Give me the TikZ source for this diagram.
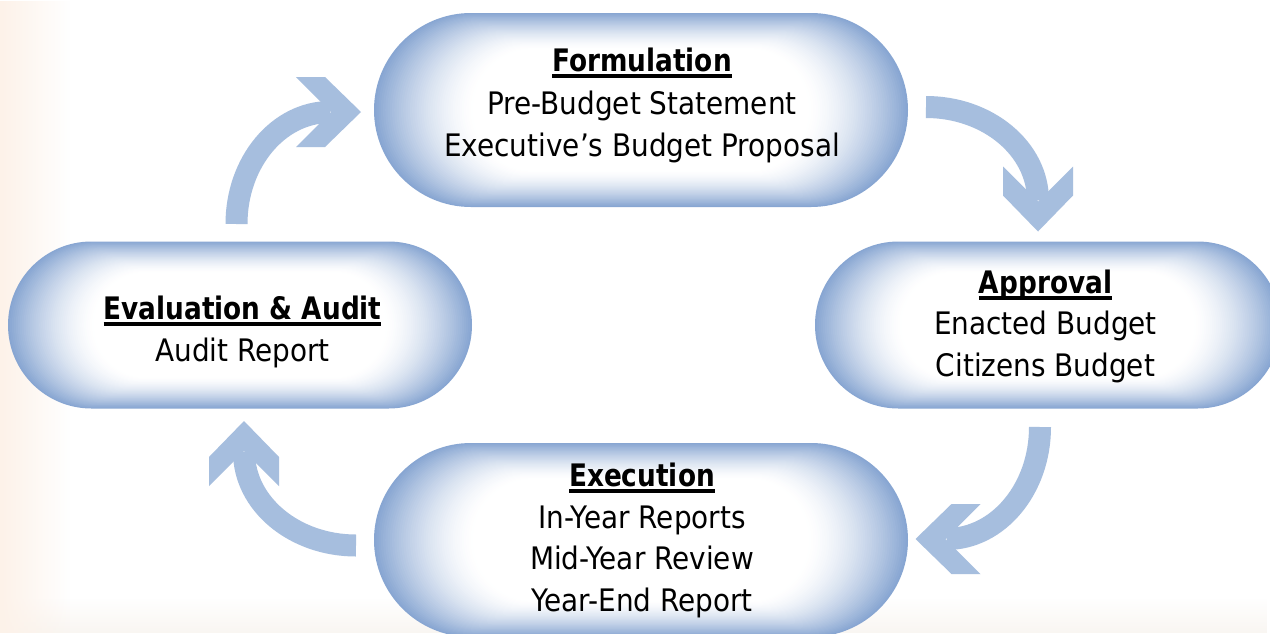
\documentclass[tikz,border=0pt]{standalone}
\usepackage{fontspec}
\setmainfont[FakeStretch=0.9,BoldFeatures={FakeStretch=0.85}]{DejaVu Sans}
\usetikzlibrary{fadings}

\definecolor{pillblue}{RGB}{136,166,210}
\definecolor{arrowblue}{RGB}{166,190,222}
\definecolor{peach}{RGB}{253,242,233}
\definecolor{sand}{RGB}{249,246,242}

% bold heading with a heavy underline
\newcommand\heading[1]{\textbf{\setbox0\hbox{#1}\rlap{\rule[-6.5pt]{\wd0}{3.5pt}}\box0}}

% stadium with a soft inner glow: centre x, centre y, half width, half height
\newcommand\glowpill[4]{%
  \foreach \gi in {0,...,44}{%
    \pgfmathsetmacro\gS{1-0.37*\gi/44}%
    \pgfmathsetmacro\gT{100*(1-\gi/44)^1.5}%
    \pgfmathsetmacro\gW{#3*\gS}%
    \pgfmathsetmacro\gR{#4*\gS}%
    \fill[pillblue!\gT!white]
      ({#1-\gW+\gR},{#2-\gR}) -- ({#1+\gW-\gR},{#2-\gR})
      arc[start angle=90,end angle=-90,radius=\gR pt]
      -- ({#1-\gW+\gR},{#2+\gR})
      arc[start angle=270,end angle=90,radius=\gR pt] -- cycle;
  }}

% curved block arrow: name, pivot x, pivot y, rotation
\newcommand\cyclearrow[4]{%
  \begin{scope}[shift={(#2,#3)},rotate=#4]
    \coordinate (#1) at (0,0);
    \draw[arrowshaft] (-93.5,0)
      arc[start angle=180,end angle=90,x radius=93.5pt,y radius=112pt];
    \fill[arrowhead] (31,-112) -- (-5,-147) -- (-34,-147) -- (1,-112)
      -- (-34,-77) -- (-5,-77) -- cycle;
  \end{scope}}

\tikzset{
  arrowshaft/.style={draw=arrowblue,line width=22pt},
  arrowhead/.style={fill=arrowblue},
  lbl/.style={anchor=base,inner sep=0pt,text=black,
    font=\fontsize{31}{42}\selectfont}
}

\begin{document}
\begin{tikzpicture}[x=1pt,y=-1pt]
  \useasboundingbox (0,0) rectangle (1270,633);
  \clip (0,0) rectangle (1270,633);

  % page background
  \fill[white] (0,0) rectangle (1270,633);
  \fill[sand,path fading=north] (0,598) rectangle (1270,633);
  \fill[peach,path fading=east] (0,0) rectangle (70,633);

  % stage pills
  \glowpill{641}{110}{267}{97}
  \glowpill{1048}{325}{233}{83.5}
  \glowpill{240}{325}{232}{83.5}
  \glowpill{641}{540}{267}{97}

  % Formulation
  \node[lbl] (form-h) at (642,71)  {\heading{Formulation}};
  \node[lbl] (form-a) at (642,114) {Pre-Budget Statement};
  \node[lbl] (form-b) at (642,156) {Executive’s Budget Proposal};

  % Approval
  \node[lbl] (appr-h) at (1045.5,293) {\heading{Approval}};
  \node[lbl] (appr-a) at (1045.5,334) {Enacted Budget};
  \node[lbl] (appr-b) at (1045.5,376) {Citizens Budget};

  % Evaluation & Audit
  \node[lbl] (eval-h) at (242.5,319) {\heading{Evaluation \& Audit}};
  \node[lbl] (eval-a) at (242.5,361) {Audit Report};

  % Execution
  \node[lbl] (exec-h) at (642,486) {\heading{Execution}};
  \node[lbl] (exec-a) at (642,528) {In-Year Reports};
  \node[lbl] (exec-b) at (642,569) {Mid-Year Review};
  \node[lbl] (exec-c) at (642,611) {Year-End Report};

  % cycle arrows
  \cyclearrow{toform}{330}{224}{0}
  \cyclearrow{toappr}{926}{200.5}{-90}
  \cyclearrow{toexec}{946.5}{427}{-180}
  \cyclearrow{toeval}{356}{452}{90}
\end{tikzpicture}
\end{document}
